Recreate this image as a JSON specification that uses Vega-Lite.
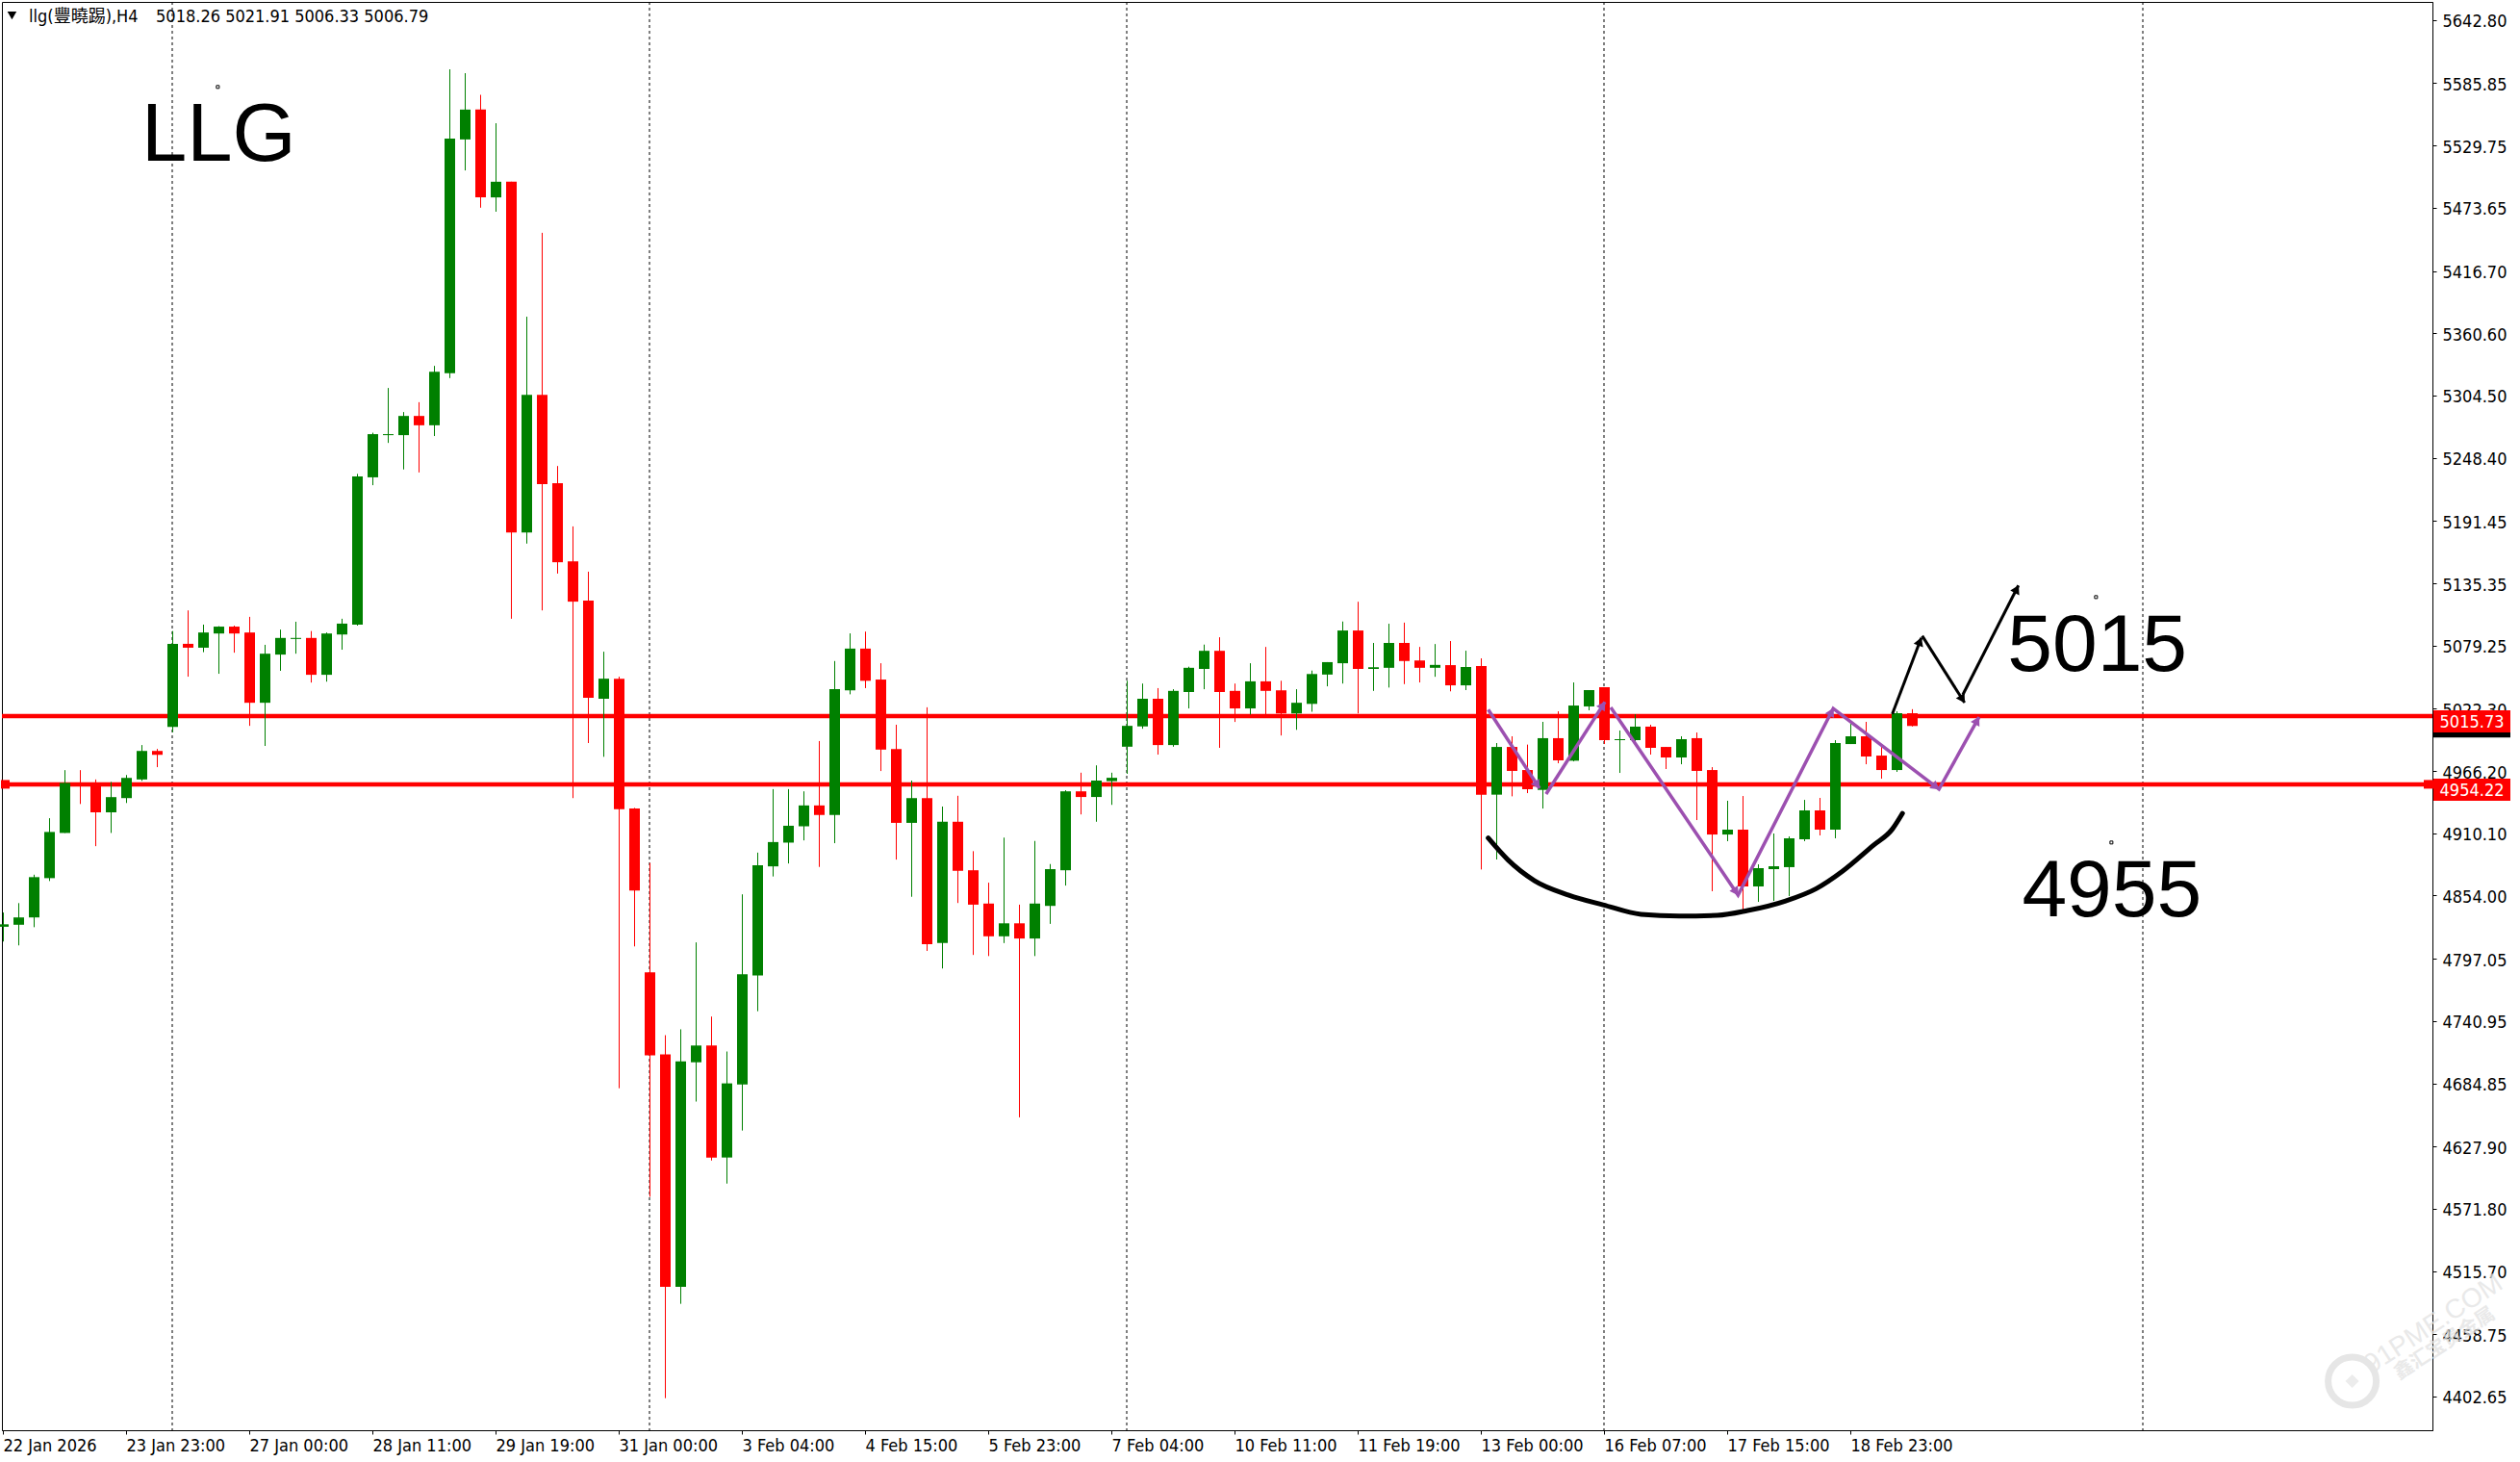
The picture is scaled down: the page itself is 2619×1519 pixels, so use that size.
{
"$schema":"https://vega.github.io/schema/vega-lite/v6.json",
"width":2526,"height":1484,
"autosize":{"type":"none"},
"padding":{"left":2,"top":2,"right":91,"bottom":33},
"background":"#ffffff",
"view":{"stroke":"#000000","strokeWidth":1,"fill":"#ffffff"},
"resolve":{"axis":{"x":"independent","y":"independent"},"scale":{"color":"independent"}},
"datasets":{
"candles":[
{"i":0,"o":4825.9,"h":4838.7,"l":4812.6,"c":4828.1,"d":"up"},
{"i":1,"o":4827.7,"h":4847.2,"l":4809.1,"c":4834.3,"d":"up"},
{"i":2,"o":4834.3,"h":4872.8,"l":4825.5,"c":4870.6,"d":"up"},
{"i":3,"o":4869.7,"h":4923.7,"l":4867.1,"c":4911.3,"d":"up"},
{"i":4,"o":4910.4,"h":4967.0,"l":4910.4,"c":4955.5,"d":"up"},
{"i":5,"o":4955.5,"h":4967.0,"l":4936.5,"c":4952.4,"d":"down"},
{"i":6,"o":4953.8,"h":4958.6,"l":4898.5,"c":4929.0,"d":"down"},
{"i":7,"o":4929.0,"h":4956.4,"l":4910.4,"c":4942.7,"d":"up"},
{"i":8,"o":4941.8,"h":4962.6,"l":4937.4,"c":4960.0,"d":"up"},
{"i":9,"o":4958.6,"h":4989.6,"l":4957.3,"c":4984.3,"d":"up"},
{"i":10,"o":4984.3,"h":4986.1,"l":4969.7,"c":4980.8,"d":"down"},
{"i":11,"o":5006.0,"h":5092.3,"l":5001.1,"c":5080.8,"d":"up"},
{"i":12,"o":5080.8,"h":5110.9,"l":5051.2,"c":5077.3,"d":"down"},
{"i":13,"o":5077.3,"h":5098.1,"l":5073.3,"c":5091.0,"d":"up"},
{"i":14,"o":5090.1,"h":5096.7,"l":5053.8,"c":5096.3,"d":"up"},
{"i":15,"o":5096.3,"h":5097.2,"l":5072.8,"c":5090.1,"d":"down"},
{"i":16,"o":5091.0,"h":5105.1,"l":5006.9,"c":5027.7,"d":"down"},
{"i":17,"o":5027.7,"h":5079.9,"l":4988.8,"c":5071.9,"d":"up"},
{"i":18,"o":5071.1,"h":5093.6,"l":5056.5,"c":5086.1,"d":"up"},
{"i":19,"o":5085.2,"h":5100.7,"l":5071.9,"c":5086.1,"d":"up"},
{"i":20,"o":5086.1,"h":5092.3,"l":5045.9,"c":5052.9,"d":"down"},
{"i":21,"o":5052.9,"h":5091.0,"l":5046.7,"c":5090.1,"d":"up"},
{"i":22,"o":5089.2,"h":5103.4,"l":5075.5,"c":5099.0,"d":"up"},
{"i":23,"o":5098.1,"h":5233.9,"l":5097.2,"c":5231.7,"d":"up"},
{"i":24,"o":5230.8,"h":5271.0,"l":5223.7,"c":5269.7,"d":"up"},
{"i":25,"o":5268.8,"h":5311.3,"l":5261.8,"c":5269.7,"d":"up"},
{"i":26,"o":5268.8,"h":5289.6,"l":5237.9,"c":5286.1,"d":"up"},
{"i":27,"o":5286.1,"h":5298.5,"l":5235.2,"c":5277.7,"d":"down"},
{"i":28,"o":5277.7,"h":5331.2,"l":5268.0,"c":5325.9,"d":"up"},
{"i":29,"o":5324.6,"h":5598.4,"l":5320.2,"c":5536.0,"d":"up"},
{"i":30,"o":5535.2,"h":5594.9,"l":5507.3,"c":5562.1,"d":"up"},
{"i":31,"o":5562.1,"h":5575.4,"l":5473.7,"c":5483.0,"d":"down"},
{"i":32,"o":5483.0,"h":5549.8,"l":5470.1,"c":5497.1,"d":"up"},
{"i":33,"o":5497.1,"h":5497.1,"l":5103.4,"c":5181.2,"d":"down"},
{"i":34,"o":5181.2,"h":5375.5,"l":5171.1,"c":5305.1,"d":"up"},
{"i":35,"o":5305.1,"h":5451.1,"l":5110.9,"c":5224.6,"d":"down"},
{"i":36,"o":5225.5,"h":5241.0,"l":5144.1,"c":5154.3,"d":"down"},
{"i":37,"o":5155.1,"h":5186.6,"l":4941.8,"c":5118.8,"d":"down"},
{"i":38,"o":5119.7,"h":5145.8,"l":4991.4,"c":5032.2,"d":"down"},
{"i":39,"o":5031.3,"h":5073.7,"l":4979.0,"c":5049.4,"d":"up"},
{"i":40,"o":5049.4,"h":5051.2,"l":4680.4,"c":4931.7,"d":"down"},
{"i":41,"o":4932.5,"h":4933.0,"l":4808.2,"c":4858.6,"d":"down"},
{"i":42,"o":4784.8,"h":4883.4,"l":4582.6,"c":4710.0,"d":"down"},
{"i":43,"o":4710.9,"h":4728.2,"l":4401.2,"c":4501.6,"d":"down"},
{"i":44,"o":4501.6,"h":4733.5,"l":4486.2,"c":4704.7,"d":"up"},
{"i":45,"o":4703.8,"h":4811.8,"l":4668.4,"c":4718.9,"d":"up"},
{"i":46,"o":4718.9,"h":4745.0,"l":4615.3,"c":4618.0,"d":"down"},
{"i":47,"o":4618.0,"h":4713.5,"l":4594.5,"c":4684.8,"d":"up"},
{"i":48,"o":4683.9,"h":4855.1,"l":4642.3,"c":4783.0,"d":"up"},
{"i":49,"o":4782.1,"h":4892.7,"l":4749.8,"c":4881.2,"d":"up"},
{"i":50,"o":4880.3,"h":4949.9,"l":4871.2,"c":4902.2,"d":"up"},
{"i":51,"o":4901.7,"h":4949.9,"l":4882.9,"c":4916.9,"d":"up"},
{"i":52,"o":4916.4,"h":4947.9,"l":4903.7,"c":4935.2,"d":"up"},
{"i":53,"o":4935.2,"h":4993.2,"l":4879.8,"c":4926.6,"d":"down"},
{"i":54,"o":4926.6,"h":5065.3,"l":4901.2,"c":5039.9,"d":"up"},
{"i":55,"o":5038.9,"h":5090.2,"l":5035.3,"c":5076.5,"d":"up"},
{"i":56,"o":5076.5,"h":5091.8,"l":5040.9,"c":5047.5,"d":"down"},
{"i":57,"o":5048.6,"h":5063.3,"l":4966.2,"c":4985.5,"d":"down"},
{"i":58,"o":4986.0,"h":5007.9,"l":4886.4,"c":4919.5,"d":"down"},
{"i":59,"o":4919.5,"h":4957.6,"l":4852.9,"c":4941.8,"d":"up"},
{"i":60,"o":4941.8,"h":5023.6,"l":4804.1,"c":4810.2,"d":"down"},
{"i":61,"o":4811.2,"h":4934.2,"l":4788.3,"c":4920.5,"d":"up"},
{"i":62,"o":4920.5,"h":4943.9,"l":4847.3,"c":4876.3,"d":"down"},
{"i":63,"o":4876.8,"h":4894.0,"l":4800.5,"c":4845.8,"d":"down"},
{"i":64,"o":4846.8,"h":4865.6,"l":4799.5,"c":4817.3,"d":"down"},
{"i":65,"o":4817.3,"h":4906.2,"l":4811.2,"c":4829.0,"d":"up"},
{"i":66,"o":4829.0,"h":4845.8,"l":4654.2,"c":4815.3,"d":"down"},
{"i":67,"o":4815.3,"h":4903.2,"l":4799.5,"c":4846.8,"d":"up"},
{"i":68,"o":4844.7,"h":4882.4,"l":4828.5,"c":4877.8,"d":"up"},
{"i":69,"o":4876.8,"h":4948.9,"l":4863.0,"c":4947.9,"d":"up"},
{"i":70,"o":4947.9,"h":4964.7,"l":4927.1,"c":4942.8,"d":"down"},
{"i":71,"o":4942.8,"h":4971.3,"l":4920.5,"c":4957.6,"d":"up"},
{"i":72,"o":4957.1,"h":4964.7,"l":4935.7,"c":4960.1,"d":"up"},
{"i":73,"o":4988.1,"h":5047.5,"l":4963.7,"c":5006.9,"d":"up"},
{"i":74,"o":5006.4,"h":5045.0,"l":5004.3,"c":5031.3,"d":"up"},
{"i":75,"o":5031.3,"h":5040.9,"l":4981.0,"c":4989.6,"d":"down"},
{"i":76,"o":4989.6,"h":5039.9,"l":4988.1,"c":5038.4,"d":"up"},
{"i":77,"o":5037.4,"h":5060.2,"l":5022.6,"c":5059.2,"d":"up"},
{"i":78,"o":5058.2,"h":5080.1,"l":5039.9,"c":5074.5,"d":"up"},
{"i":79,"o":5074.5,"h":5086.7,"l":4987.1,"c":5037.4,"d":"down"},
{"i":80,"o":5038.4,"h":5045.0,"l":5010.4,"c":5022.6,"d":"down"},
{"i":81,"o":5022.6,"h":5063.3,"l":5017.0,"c":5047.0,"d":"up"},
{"i":82,"o":5047.0,"h":5078.0,"l":5017.0,"c":5038.4,"d":"down"},
{"i":83,"o":5038.9,"h":5047.5,"l":4998.2,"c":5018.1,"d":"down"},
{"i":84,"o":5018.1,"h":5039.9,"l":5003.3,"c":5027.7,"d":"up"},
{"i":85,"o":5026.7,"h":5056.7,"l":5019.6,"c":5053.6,"d":"up"},
{"i":86,"o":5053.1,"h":5064.3,"l":5042.5,"c":5064.3,"d":"up"},
{"i":87,"o":5063.3,"h":5100.9,"l":5045.0,"c":5092.8,"d":"up"},
{"i":88,"o":5092.8,"h":5118.7,"l":5018.1,"c":5058.2,"d":"down"},
{"i":89,"o":5058.2,"h":5081.6,"l":5038.4,"c":5059.7,"d":"up"},
{"i":90,"o":5059.2,"h":5098.9,"l":5041.4,"c":5081.6,"d":"up"},
{"i":91,"o":5081.6,"h":5099.9,"l":5044.5,"c":5065.3,"d":"down"},
{"i":92,"o":5065.8,"h":5078.0,"l":5046.0,"c":5059.2,"d":"down"},
{"i":93,"o":5059.2,"h":5080.6,"l":5051.1,"c":5061.8,"d":"up"},
{"i":94,"o":5061.6,"h":5083.3,"l":5038.0,"c":5043.4,"d":"down"},
{"i":95,"o":5043.4,"h":5074.6,"l":5039.1,"c":5059.9,"d":"up"},
{"i":96,"o":5060.8,"h":5067.7,"l":4877.5,"c":4944.9,"d":"down"},
{"i":97,"o":4944.9,"h":4991.4,"l":4886.5,"c":4987.9,"d":"up"},
{"i":98,"o":4987.9,"h":4997.5,"l":4943.4,"c":4966.3,"d":"down"},
{"i":99,"o":4967.1,"h":4990.0,"l":4946.3,"c":4949.8,"d":"down"},
{"i":100,"o":4949.2,"h":5010.5,"l":4932.4,"c":4995.8,"d":"up"},
{"i":101,"o":4995.8,"h":5020.0,"l":4973.2,"c":4975.8,"d":"down"},
{"i":102,"o":4975.5,"h":5046.0,"l":4974.9,"c":5025.2,"d":"up"},
{"i":103,"o":5024.4,"h":5039.1,"l":5020.9,"c":5039.1,"d":"up"},
{"i":104,"o":5041.7,"h":5041.7,"l":4990.5,"c":4994.0,"d":"down"},
{"i":105,"o":4994.0,"h":5002.7,"l":4964.5,"c":4994.9,"d":"up"},
{"i":106,"o":4994.0,"h":5017.4,"l":4989.7,"c":5006.2,"d":"up"},
{"i":107,"o":5006.2,"h":5007.9,"l":4981.0,"c":4987.1,"d":"down"},
{"i":108,"o":4987.9,"h":4987.9,"l":4968.0,"c":4978.4,"d":"down"},
{"i":109,"o":4978.4,"h":4997.5,"l":4972.3,"c":4994.9,"d":"up"},
{"i":110,"o":4995.8,"h":5000.9,"l":4922.0,"c":4966.3,"d":"down"},
{"i":111,"o":4967.1,"h":4969.7,"l":4857.9,"c":4909.0,"d":"down"},
{"i":112,"o":4909.0,"h":4939.4,"l":4903.0,"c":4913.4,"d":"up"},
{"i":113,"o":4913.4,"h":4943.7,"l":4841.4,"c":4862.2,"d":"down"},
{"i":114,"o":4862.2,"h":4882.1,"l":4848.3,"c":4878.7,"d":"up"},
{"i":115,"o":4877.8,"h":4909.9,"l":4849.2,"c":4880.4,"d":"up"},
{"i":116,"o":4879.6,"h":4907.3,"l":4853.5,"c":4905.6,"d":"up"},
{"i":117,"o":4904.7,"h":4940.2,"l":4903.0,"c":4930.7,"d":"up"},
{"i":118,"o":4930.7,"h":4942.0,"l":4908.2,"c":4913.4,"d":"down"},
{"i":119,"o":4913.4,"h":4994.0,"l":4905.6,"c":4991.4,"d":"up"},
{"i":120,"o":4990.5,"h":5008.7,"l":4990.5,"c":4997.5,"d":"up"},
{"i":121,"o":4997.5,"h":5010.5,"l":4972.3,"c":4979.3,"d":"down"},
{"i":122,"o":4980.1,"h":4988.8,"l":4959.3,"c":4967.1,"d":"down"},
{"i":123,"o":4967.1,"h":5020.0,"l":4965.4,"c":5018.3,"d":"up"},
{"i":124,"o":5018.26,"h":5021.91,"l":5006.33,"c":5006.79,"d":"down"}
],
"seps":[{"i":11},{"i":42},{"i":73},{"i":104},{"i":139}],
"levels":[{"p":5015.73,"t":"5015.73"},{"p":4954.22,"t":"4954.22"}],
"paths":[
{"g":"purple","s":"p1","i":96.48,"p":5021.5},{"g":"purple","s":"p1","i":99.81,"p":4950.6},
{"g":"purple","s":"p2","i":100.24,"p":4945.5},{"g":"purple","s":"p2","i":104.06,"p":5028.4},
{"g":"purple","s":"p3","i":104.44,"p":5023.5},{"g":"purple","s":"p3","i":112.71,"p":4854.4},{"g":"purple","s":"p3","i":118.89,"p":5022.6},{"g":"purple","s":"p3","i":125.76,"p":4949.8},{"g":"purple","s":"p3","i":128.36,"p":5014.8},
{"g":"black","s":"b1","i":122.73,"p":5017.7},{"g":"black","s":"b1","i":124.61,"p":5086.2},
{"g":"black","s":"b2","i":124.67,"p":5088.0},{"g":"black","s":"b2","i":127.42,"p":5027.8},
{"g":"black","s":"b3","i":127.31,"p":5035.0},{"g":"black","s":"b3","i":130.92,"p":5133.4}
],
"bowl":[
{"i":96.48,"p":4905.8},{"i":97.76,"p":4886.2},{"i":99.49,"p":4867.4},{"i":101.72,"p":4854.4},{"i":103.94,"p":4845.7},{"i":106.41,"p":4837.1},{"i":108.88,"p":4835.6},{"i":111.36,"p":4836.2},{"i":113.33,"p":4840.5},{"i":115.8,"p":4849.2},{"i":117.78,"p":4860.2},{"i":119.51,"p":4876.1},{"i":121.49,"p":4899.2},{"i":122.72,"p":4913.7},{"i":123.39,"p":4928.1}
],
"heads":[
{"g":"purple","i":99.67,"p":4953.6,"a":146.9},{"g":"purple","i":103.93,"p":5025.5,"a":32.6},{"g":"purple","i":112.58,"p":4857.3,"a":145.8},{"g":"purple","i":118.78,"p":5019.5,"a":27},{"g":"purple","i":125.56,"p":4951.9,"a":127.4},{"g":"purple","i":128.24,"p":5011.8,"a":29},
{"g":"black","i":124.52,"p":5083.0,"a":20.8},{"g":"black","i":127.29,"p":5030.8,"a":147.6},{"g":"black","i":130.81,"p":5130.2,"a":27}
],
"notes":[{"t":"LLG","i":9.0,"p":5516.0},{"t":"5015","i":130.2,"p":5056.4},{"t":"4955","i":131.15,"p":4835.3}],
"dots":[{"i":13.96,"p":5582.5},{"i":135.96,"p":5122.9},{"i":136.96,"p":4901.8}],
"header":[{"t":"llg(豐曉踢),H4","i":1.69,"p":5644.9},{"t":"5018.26 5021.91 5006.33 5006.79","i":9.94,"p":5644.9}]
},
"layer":[
{"data":{"name":"candles"},"mark":{"type":"rule","opacity":0},
 "encoding":{
  "x":{"field":"i","type":"quantitative","scale":{"domain":[-0.0625,157.8125],"nice":false,"zero":false},
   "axis":{"title":null,"grid":false,"domain":true,"domainColor":"#000000","tickColor":"#000000","tickSize":4,"tickWidth":1,"labelColor":"#000000",
    "values":[0,8,16,24,32,40,48,56,64,72,80,88,96,104,112,120],
    "labelExpr":"['22 Jan 2026','23 Jan 23:00','27 Jan 00:00','28 Jan 11:00','29 Jan 19:00','31 Jan 00:00','3 Feb 04:00','4 Feb 15:00','5 Feb 23:00','7 Feb 04:00','10 Feb 11:00','11 Feb 19:00','13 Feb 00:00','16 Feb 07:00','17 Feb 15:00','18 Feb 23:00'][datum.value/8]",
    "labelAlign":"left","labelBaseline":"middle","labelFont":"DejaVu Sans Condensed, Noto Sans","labelFontSize":18,"labelPadding":12,"labelOverlap":false,"labelBound":false,"labelFlush":false}},
  "y":{"field":"c","type":"quantitative","scale":{"domain":[4372.3,5659.1],"nice":false,"zero":false},
   "axis":{"title":null,"orient":"right","grid":false,"domain":true,"domainColor":"#000000","tickColor":"#000000","tickSize":4,"tickWidth":1,"labelColor":"#000000",
    "values":[5642.80,5585.85,5529.75,5473.65,5416.70,5360.60,5304.50,5248.40,5191.45,5135.35,5079.25,5022.30,4966.20,4910.10,4854.00,4797.05,4740.95,4684.85,4627.90,4571.80,4515.70,4458.75,4402.65],
    "format":".2f","labelAlign":"left","labelBaseline":"middle","labelOffset":2,"labelFont":"DejaVu Sans Condensed, Noto Sans","labelFontSize":18,"labelPadding":6,"labelOverlap":false,"labelBound":false,"labelFlush":false}}
 }},
{"data":{"name":"seps"},"mark":{"type":"rule","color":"#000000","strokeWidth":1,"strokeDash":[3,3]},
 "encoding":{"x":{"field":"i","type":"quantitative","axis":null,"scale":{"domain":[-0.0625,157.8125],"nice":false,"zero":false}}}},
{"data":{"name":"levels"},"mark":{"type":"rule","color":"#ff0000","strokeWidth":4.5},
 "encoding":{"y":{"field":"p","type":"quantitative","axis":null,"scale":{"domain":[4372.3,5659.1],"nice":false,"zero":false}}}},
{"data":{"name":"candles"},"mark":{"type":"rule","strokeWidth":1,"xOffset":0.5},
 "encoding":{
  "x":{"field":"i","type":"quantitative","axis":null,"scale":{"domain":[-0.0625,157.8125],"nice":false,"zero":false}},
  "y":{"field":"l","type":"quantitative","axis":null,"scale":{"domain":[4372.3,5659.1],"nice":false,"zero":false}},
  "y2":{"field":"h"},
  "color":{"field":"d","type":"nominal","legend":null,"scale":{"domain":["up","down"],"range":["#008000","#ff0000"]}}}},
{"data":{"name":"candles"},"mark":{"type":"rule","strokeWidth":11,"strokeCap":"butt","xOffset":0.5},
 "encoding":{
  "x":{"field":"i","type":"quantitative","axis":null,"scale":{"domain":[-0.0625,157.8125],"nice":false,"zero":false}},
  "y":{"field":"o","type":"quantitative","axis":null,"scale":{"domain":[4372.3,5659.1],"nice":false,"zero":false}},
  "y2":{"field":"c"},
  "color":{"field":"d","type":"nominal","legend":null,"scale":{"domain":["up","down"],"range":["#008000","#ff0000"]}}}},
{"data":{"name":"levels"},"transform":[{"filter":"datum.p<5000"}],"mark":{"type":"rule","color":"#ff0000","strokeWidth":9,"strokeCap":"butt"},
 "encoding":{
  "x":{"datum":157.25,"type":"quantitative","axis":null,"scale":{"domain":[-0.0625,157.8125],"nice":false,"zero":false}},
  "x2":{"datum":157.875},
  "y":{"field":"p","type":"quantitative","axis":null,"scale":{"domain":[4372.3,5659.1],"nice":false,"zero":false}}}},
{"data":{"name":"levels"},"transform":[{"filter":"datum.p<5000"}],"mark":{"type":"rule","color":"#ff0000","strokeWidth":9,"strokeCap":"butt"},
 "encoding":{
  "x":{"datum":-0.125,"type":"quantitative","axis":null,"scale":{"domain":[-0.0625,157.8125],"nice":false,"zero":false}},
  "x2":{"datum":0.4375},
  "y":{"field":"p","type":"quantitative","axis":null,"scale":{"domain":[4372.3,5659.1],"nice":false,"zero":false}}}},
{"data":{"values":[{"p":5006.79}]},"mark":{"type":"rule","color":"#000000","strokeWidth":23,"strokeCap":"butt","yOffset":0.5},
 "encoding":{
  "x":{"datum":157.875,"type":"quantitative","axis":null,"scale":{"domain":[-0.0625,157.8125],"nice":false,"zero":false}},
  "x2":{"datum":162.875},
  "y":{"field":"p","type":"quantitative","axis":null,"scale":{"domain":[4372.3,5659.1],"nice":false,"zero":false}}}},
{"data":{"name":"levels"},"mark":{"type":"rule","color":"#ff0000","strokeWidth":23,"strokeCap":"butt","yOffset":5.5},
 "encoding":{
  "x":{"datum":157.875,"type":"quantitative","axis":null,"scale":{"domain":[-0.0625,157.8125],"nice":false,"zero":false}},
  "x2":{"datum":162.875},
  "y":{"field":"p","type":"quantitative","axis":null,"scale":{"domain":[4372.3,5659.1],"nice":false,"zero":false}}}},
{"data":{"name":"levels"},"mark":{"type":"text","color":"#ffffff","font":"DejaVu Sans Condensed, Noto Sans","fontSize":18,"align":"center","baseline":"middle","yOffset":7},
 "encoding":{
  "x":{"datum":160.375,"type":"quantitative","axis":null,"scale":{"domain":[-0.0625,157.8125],"nice":false,"zero":false}},
  "y":{"field":"p","type":"quantitative","axis":null,"scale":{"domain":[4372.3,5659.1],"nice":false,"zero":false}},
  "text":{"field":"t"}}},
{"data":{"name":"bowl"},"mark":{"type":"line","color":"#000000","strokeWidth":5,"interpolate":"monotone","strokeCap":"round"},
 "encoding":{
  "x":{"field":"i","type":"quantitative","axis":null,"scale":{"domain":[-0.0625,157.8125],"nice":false,"zero":false}},
  "y":{"field":"p","type":"quantitative","axis":null,"scale":{"domain":[4372.3,5659.1],"nice":false,"zero":false}}}},
{"data":{"name":"paths"},"transform":[{"filter":"datum.g==='purple'"}],"mark":{"type":"line","color":"#9c50b0","strokeWidth":3.5},
 "encoding":{
  "x":{"field":"i","type":"quantitative","axis":null,"scale":{"domain":[-0.0625,157.8125],"nice":false,"zero":false}},
  "y":{"field":"p","type":"quantitative","axis":null,"scale":{"domain":[4372.3,5659.1],"nice":false,"zero":false}},
  "detail":{"field":"s"}}},
{"data":{"name":"paths"},"transform":[{"filter":"datum.g==='black'"}],"mark":{"type":"line","color":"#000000","strokeWidth":3},
 "encoding":{
  "x":{"field":"i","type":"quantitative","axis":null,"scale":{"domain":[-0.0625,157.8125],"nice":false,"zero":false}},
  "y":{"field":"p","type":"quantitative","axis":null,"scale":{"domain":[4372.3,5659.1],"nice":false,"zero":false}},
  "detail":{"field":"s"}}},
{"data":{"name":"heads"},"mark":{"type":"point","shape":"triangle-up","filled":true,"size":110,"opacity":1},
 "encoding":{
  "x":{"field":"i","type":"quantitative","axis":null,"scale":{"domain":[-0.0625,157.8125],"nice":false,"zero":false}},
  "y":{"field":"p","type":"quantitative","axis":null,"scale":{"domain":[4372.3,5659.1],"nice":false,"zero":false}},
  "angle":{"field":"a","type":"quantitative","scale":null},
  "color":{"field":"g","type":"nominal","legend":null,"scale":{"domain":["purple","black"],"range":["#9c50b0","#000000"]}}}},
{"data":{"name":"notes"},"transform":[{"filter":"datum.t==='LLG'"}],"mark":{"type":"text","color":"#000000","font":"Liberation Sans","fontSize":85,"align":"left","baseline":"alphabetic"},
 "encoding":{
  "x":{"field":"i","type":"quantitative","axis":null,"scale":{"domain":[-0.0625,157.8125],"nice":false,"zero":false}},
  "y":{"field":"p","type":"quantitative","axis":null,"scale":{"domain":[4372.3,5659.1],"nice":false,"zero":false}},
  "text":{"field":"t"}}},
{"data":{"name":"notes"},"transform":[{"filter":"datum.t!=='LLG'"}],"mark":{"type":"text","color":"#000000","font":"Liberation Sans","fontSize":84,"align":"left","baseline":"alphabetic"},
 "encoding":{
  "x":{"field":"i","type":"quantitative","axis":null,"scale":{"domain":[-0.0625,157.8125],"nice":false,"zero":false}},
  "y":{"field":"p","type":"quantitative","axis":null,"scale":{"domain":[4372.3,5659.1],"nice":false,"zero":false}},
  "text":{"field":"t"}}},
{"data":{"name":"dots"},"mark":{"type":"point","shape":"square","filled":false,"size":9,"stroke":"#000000","strokeWidth":1,"opacity":1},
 "encoding":{
  "x":{"field":"i","type":"quantitative","axis":null,"scale":{"domain":[-0.0625,157.8125],"nice":false,"zero":false}},
  "y":{"field":"p","type":"quantitative","axis":null,"scale":{"domain":[4372.3,5659.1],"nice":false,"zero":false}}}},
{"data":{"name":"header"},"mark":{"type":"text","color":"#000000","font":"DejaVu Sans Condensed, Noto Sans CJK TC","fontSize":18,"align":"left","baseline":"middle"},
 "encoding":{
  "x":{"field":"i","type":"quantitative","axis":null,"scale":{"domain":[-0.0625,157.8125],"nice":false,"zero":false}},
  "y":{"field":"p","type":"quantitative","axis":null,"scale":{"domain":[4372.3,5659.1],"nice":false,"zero":false}},
  "text":{"field":"t"}}},
{"data":{"values":[{"i":0.59,"p":5646.9}]},"mark":{"type":"point","shape":"triangle-down","filled":true,"size":90,"color":"#000000","opacity":1},
 "encoding":{
  "x":{"field":"i","type":"quantitative","axis":null,"scale":{"domain":[-0.0625,157.8125],"nice":false,"zero":false}},
  "y":{"field":"p","type":"quantitative","axis":null,"scale":{"domain":[4372.3,5659.1],"nice":false,"zero":false}}}},
{"data":{"values":[{"t":"91PME.COM","i":157.9,"p":4467.7}]},"mark":{"type":"text","color":"#e2e2e2","opacity":0.75,"font":"Liberation Sans","fontSize":28,"align":"center","baseline":"middle","angle":327},
 "encoding":{
  "x":{"field":"i","type":"quantitative","axis":null,"scale":{"domain":[-0.0625,157.8125],"nice":false,"zero":false}},
  "y":{"field":"p","type":"quantitative","axis":null,"scale":{"domain":[4372.3,5659.1],"nice":false,"zero":false}},
  "text":{"field":"t"}}},
{"data":{"values":[{"t":"鑫汇宝贵金属","i":158.6,"p":4450.3}]},"mark":{"type":"text","color":"#e2e2e2","opacity":0.75,"font":"Noto Sans CJK SC","fontWeight":"bold","fontSize":20,"align":"center","baseline":"middle","angle":327},
 "encoding":{
  "x":{"field":"i","type":"quantitative","axis":null,"scale":{"domain":[-0.0625,157.8125],"nice":false,"zero":false}},
  "y":{"field":"p","type":"quantitative","axis":null,"scale":{"domain":[4372.3,5659.1],"nice":false,"zero":false}},
  "text":{"field":"t"}}},
{"data":{"values":[{"i":152.6,"p":4416.5}]},"mark":{"type":"point","shape":"circle","filled":false,"size":2500,"stroke":"#e6e6e6","strokeWidth":7,"opacity":1},
 "encoding":{
  "x":{"field":"i","type":"quantitative","axis":null,"scale":{"domain":[-0.0625,157.8125],"nice":false,"zero":false}},
  "y":{"field":"p","type":"quantitative","axis":null,"scale":{"domain":[4372.3,5659.1],"nice":false,"zero":false}}}},
{"data":{"values":[{"i":152.6,"p":4416.5}]},"mark":{"type":"point","shape":"diamond","filled":true,"size":200,"color":"#ececec","opacity":1},
 "encoding":{
  "x":{"field":"i","type":"quantitative","axis":null,"scale":{"domain":[-0.0625,157.8125],"nice":false,"zero":false}},
  "y":{"field":"p","type":"quantitative","axis":null,"scale":{"domain":[4372.3,5659.1],"nice":false,"zero":false}}}}
]
}
